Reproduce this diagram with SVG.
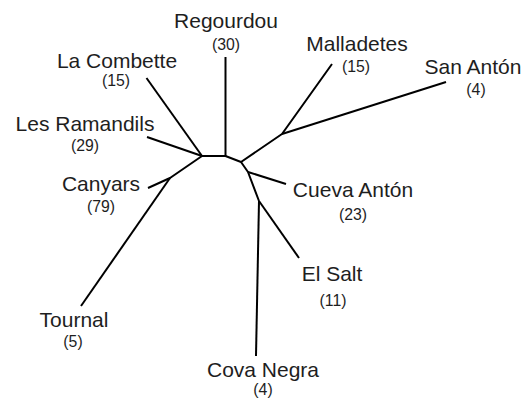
<svg xmlns="http://www.w3.org/2000/svg" width="530" height="398" viewBox="0 0 530 398">
<style>
.e{stroke:#000;stroke-width:2;fill:none;stroke-linecap:butt;stroke-linejoin:round}
.n{font-family:"Liberation Sans",Arial,sans-serif;font-size:21px;fill:#1e1e1e;text-anchor:middle}
.c{font-family:"Liberation Sans",Arial,sans-serif;font-size:15.8px;fill:#1e1e1e;text-anchor:middle}
</style>
<rect width="530" height="398" fill="#fff"/>
<g id="connectors">
<path class="e" d="M202,156 L225.5,156 L241,162 L248,172 L259,201"/>
<path class="e" d="M225.5,156 L225.5,57"/>
<path class="e" d="M241,162 L282,134 L332,64"/>
<path class="e" d="M282,134 L446,82"/>
<path class="e" d="M248,172 L286,184"/>
<path class="e" d="M259,201 L299,258"/>
<path class="e" d="M259,201 L256,356"/>
<path class="e" d="M202,156 L146.5,78"/>
<path class="e" d="M202,156 L147,137"/>
<path class="e" d="M202,156 L170,178 L148,188"/>
<path class="e" d="M170,178 L81,306"/>
</g>
<g id="regourdou"><text class="n" x="226" y="27.5">Regourdou</text><text class="c" x="226" y="49.5">(30)</text></g>
<g id="la-combette"><text class="n" x="117" y="68">La Combette</text><text class="c" x="116" y="85.5">(15)</text></g>
<g id="malladetes"><text class="n" x="357" y="51">Malladetes</text><text class="c" x="356" y="72">(15)</text></g>
<g id="san-anton"><text class="n" x="473" y="73.5">San Antón</text><text class="c" x="476" y="94.5">(4)</text></g>
<g id="les-ramandils"><text class="n" x="85" y="130.5">Les Ramandils</text><text class="c" x="85" y="150.5">(29)</text></g>
<g id="canyars"><text class="n" x="101" y="191">Canyars</text><text class="c" x="101" y="212">(79)</text></g>
<g id="cueva-anton"><text class="n" x="353" y="196.5">Cueva Antón</text><text class="c" x="353" y="219.5">(23)</text></g>
<g id="el-salt"><text class="n" x="332" y="280.5">El Salt</text><text class="c" x="333" y="305.5">(11)</text></g>
<g id="tournal"><text class="n" x="74" y="327">Tournal</text><text class="c" x="73" y="347">(5)</text></g>
<g id="cova-negra"><text class="n" x="263" y="376.5">Cova Negra</text><text class="c" x="263" y="395">(4)</text></g>
</svg>
